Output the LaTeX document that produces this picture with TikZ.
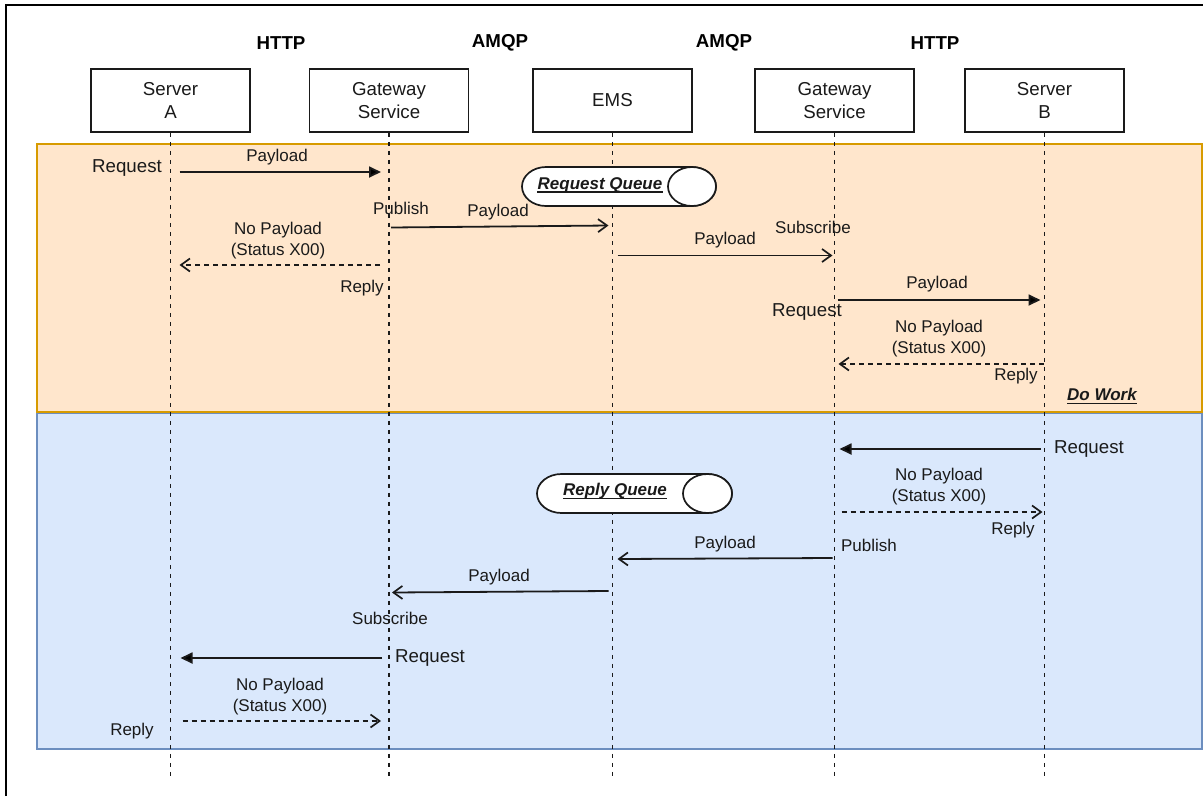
\documentclass[tikz,border=0pt]{standalone}
\usepackage{fontspec}
\setmainfont{Liberation Sans}
\usetikzlibrary{arrows.meta,calc,backgrounds}
\definecolor{orfill}{HTML}{FFE6CC}
\definecolor{ordraw}{HTML}{D79B00}
\definecolor{blfill}{HTML}{DAE8FC}
\definecolor{bldraw}{HTML}{6C8EBF}
\definecolor{ink}{HTML}{1A1A1A}
\newcommand{\myul}[1]{\tikz[baseline=(u.base)]{\node[inner sep=0pt] (u) {#1};\draw[ink,line width=1.3pt] ([yshift=-3pt]u.base west) -- ([yshift=-3pt]u.base east);}}
\begin{document}
\begin{tikzpicture}[x=1pt,y=-1pt,
  actor/.style={draw=ink,line width=1.7pt,fill=white,minimum width=159pt,minimum height=63pt,
    align=center,font=\fontsize{18.7}{22.4}\selectfont,text=ink,inner sep=0pt},
  proto/.style={font=\fontsize{18.7}{22.4}\selectfont\bfseries,text=black,inner sep=0pt},
  lbl/.style={font=\fontsize{17}{21}\selectfont,text=ink,inner sep=0pt,align=center},
  big/.style={font=\fontsize{18.7}{22.4}\selectfont,text=ink,inner sep=0pt},
  qtext/.style={font=\fontsize{17}{21}\selectfont\bfseries\itshape,text=ink,inner sep=0pt},
  life/.style={draw=ink,line width=1.8pt,dash pattern=on 4.5pt off 4.5pt},
  sync/.style={draw=ink,line width=1.8pt,-{Triangle[length=12pt,width=11pt]}},
  msg/.style={draw=ink,line width=1.8pt,-{Straight Barb[length=9pt,width=13pt,line width=1.7pt]}},
  ret/.style={draw=ink,line width=1.7pt,dash pattern=on 5pt off 4pt,-{Straight Barb[length=9pt,width=13pt,line width=1.7pt]}},
  pill/.style={draw=ink,line width=1.7pt,fill=white}]
\useasboundingbox (0,0) rectangle (1203,796);

% actors
\node[actor] (A) at (170.5,100.5) {Server\\A};
\node[actor] (G1) at (389,100.5) {Gateway\\Service};
\node[actor] (E) at (612.5,100.5) {EMS};
\node[actor] (G2) at (834.5,100.5) {Gateway\\Service};
\node[actor] (B) at (1044.5,100.5) {Server\\B};

% protocols
\node[proto] (p1) at (281,43) {HTTP};
\node[proto] (p2) at (500,43) {AMQP};
\node[proto] (p3) at (724,43) {AMQP};
\node[proto] (p4) at (935,43) {HTTP};

\begin{scope}[on background layer]
\fill[white] (0,0) rectangle (1203,796);
\draw[black,line width=2pt] (6,796) -- (6,5) -- (1203,5);
\draw[fill=orfill,draw=ordraw,line width=1.5pt] (37,144) rectangle (1202,412);
\draw[fill=blfill,draw=bldraw,line width=1.5pt] (37,413.5) rectangle (1202,749);
\end{scope}

% lifelines
\foreach \n in {A,G1,E,G2,B}{
  \draw[life] (\n.south) -- (\n.south |- 0,780);
}

% queues
\draw[pill] (546,167) -- (692,167) arc[start angle=90,end angle=-90,x radius=24pt,y radius=19.5pt]
  -- (546,206) arc[start angle=270,end angle=90,x radius=24pt,y radius=19.5pt] -- cycle;
\draw[pill] (692,186.5) ellipse[x radius=24pt,y radius=19.5pt];
\node[qtext] (rq) at (600,185) {\myul{Request Queue}};

\draw[pill] (561.5,474) -- (707.5,474) arc[start angle=90,end angle=-90,x radius=24.5pt,y radius=19.5pt]
  -- (561.5,513) arc[start angle=270,end angle=90,x radius=24.5pt,y radius=19.5pt] -- cycle;
\draw[pill] (707.5,493.5) ellipse[x radius=24.5pt,y radius=19.5pt];
\node[qtext] (pq) at (615,491) {\myul{Reply Queue}};

% request phase
\draw[sync] ($(A.south|-0,172)+(9,0)$) -- ($(G1.south|-0,172)+(-8,0)$);
\node[big] (t1) at (127,168) {Request};
\node[lbl] (t2) at (277,157) {Payload};

\draw[msg] ($(G1.south|-0,227.5)+(2,0)$) -- ($(E.south|-0,225.5)+(-4,0)$);
\node[lbl] (t3) at (401,208) {Publish};
\node[lbl] (t4) at (498,212) {Payload};

\draw[ret] ($(G1.south|-0,265)+(-9,0)$) -- ($(A.south|-0,265)+(9,0)$);
\node[lbl] (t5) at (278,241) {No Payload\\(Status X00)};
\node[lbl] (t6) at (362,288) {Reply};

\draw[msg] ($(E.south|-0,255.5)+(5,0)$) -- ($(G2.south|-0,255.5)+(-2,0)$);
\node[lbl] (t7) at (813,227) {Subscribe};
\node[lbl] (t8) at (725,240) {Payload};

\draw[sync] ($(G2.south|-0,300)+(3,0)$) -- ($(B.south|-0,300)+(-4,0)$);
\node[big] (t9) at (807,312) {Request};
\node[lbl] (t10) at (937,284) {Payload};

\draw[ret] ($(B.south|-0,364)+(-1,0)$) -- ($(G2.south|-0,364)+(4,0)$);
\node[lbl] (t11) at (939,339) {No Payload\\(Status X00)};
\node[lbl] (t12) at (1016,376) {Reply};

\node[qtext] (t13) at (1102,396) {\myul{Do Work}};

% reply phase
\draw[sync] ($(B.south|-0,449)+(-4,0)$) -- ($(G2.south|-0,449)+(5,0)$);
\node[big] (t14) at (1089,449) {Request};

\draw[ret] ($(G2.south|-0,512)+(7,0)$) -- ($(B.south|-0,512)+(-2,0)$);
\node[lbl] (t15) at (939,487) {No Payload\\(Status X00)};
\node[lbl] (t16) at (1013,530) {Reply};

\draw[msg] ($(G2.south|-0,558)+(-2,0)$) -- ($(E.south|-0,559)+(5,0)$);
\node[lbl] (t17) at (725,544) {Payload};
\node[lbl] (t18) at (869,545) {Publish};

\draw[msg] ($(E.south|-0,591)+(-4,0)$) -- ($(G1.south|-0,592.5)+(3,0)$);
\node[lbl] (t19) at (499,577) {Payload};
\node[lbl] (t20) at (390,618) {Subscribe};

\draw[sync] ($(G1.south|-0,658)+(-7,0)$) -- ($(A.south|-0,658)+(10,0)$);
\node[big] (t21) at (430,658) {Request};

\draw[ret] ($(A.south|-0,721)+(12,0)$) -- ($(G1.south|-0,721)+(-8,0)$);
\node[lbl] (t22) at (280,697) {No Payload\\(Status X00)};
\node[lbl] (t23) at (132,731) {Reply};
\end{tikzpicture}
\end{document}
